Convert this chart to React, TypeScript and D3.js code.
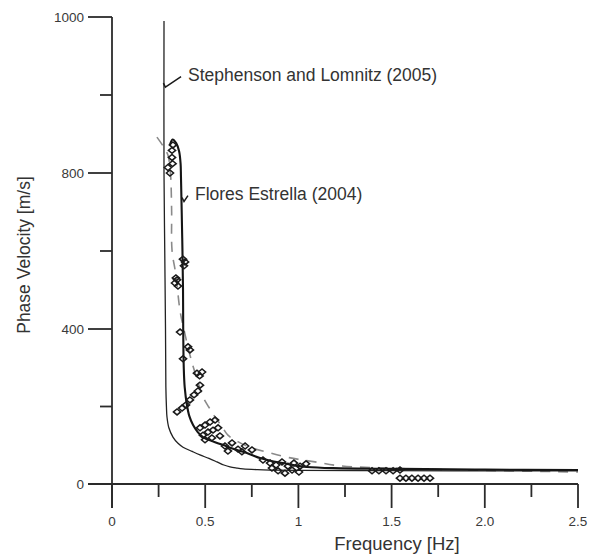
import React from "react";
import * as d3 from "d3";

// Dispersion curve of Stephenson and Lomnitz (2005): [frequency Hz, phase velocity m/s]
const stephensonCurve: [number, number][] = [
  [0.279, 995], [0.279, 800], [0.283, 600], [0.287, 400], [0.289, 250],
  [0.292, 200], [0.295, 173], [0.305, 145], [0.327, 121], [0.354, 105],
  [0.381, 95], [0.43, 84], [0.472, 75], [0.52, 66], [0.563, 57],
  [0.6, 49], [0.633, 44], [0.67, 41], [0.703, 39], [0.78, 37],
  [0.848, 36], [1.009, 35], [1.5, 34.5], [2.0, 34], [2.5, 34],
];

// Dispersion curve of Flores Estrella (2004)
const floresCurve: [number, number][] = [
  [0.311, 836], [0.325, 843], [0.345, 838], [0.36, 828], [0.368, 812],
  [0.370, 790], [0.374, 700], [0.378, 600], [0.381, 500], [0.382, 400],
  [0.385, 300], [0.390, 250], [0.402, 204], [0.415, 175], [0.435, 152],
  [0.460, 134], [0.488, 121], [0.54, 110], [0.595, 101], [0.65, 91],
  [0.703, 83], [0.75, 75], [0.794, 67], [0.85, 60], [0.917, 54],
  [0.98, 48], [1.046, 44], [1.186, 41], [1.545, 39], [2.0, 37], [2.5, 36],
];

// Dashed reference curve
const dashedCurve: [number, number][] = [
  [0.241, 846], [0.27, 836], [0.300, 823], [0.315, 790], [0.317, 769],
  [0.320, 700], [0.322, 602], [0.343, 538], [0.365, 447], [0.39, 390],
  [0.418, 333], [0.45, 280], [0.488, 225], [0.52, 198], [0.553, 173],
  [0.59, 148], [0.622, 126], [0.68, 108], [0.740, 95], [0.848, 80],
  [0.95, 68], [1.089, 57], [1.223, 47], [1.545, 40], [2.0, 35], [2.5, 31],
];

// Measured phase velocities (open diamonds)
const observations: [number, number][] = [
  [0.327, 836], [0.322, 829], [0.322, 820], [0.325, 812], [0.300, 807], [0.311, 800],
  [0.392, 572], [0.386, 562], [0.381, 579],
  [0.349, 526], [0.338, 518], [0.354, 510], [0.343, 531],
  [0.365, 392], [0.381, 323], [0.418, 346], [0.408, 354],
  [0.456, 286], [0.483, 289], [0.47, 279],
  [0.349, 186], [0.376, 196], [0.397, 204], [0.418, 217], [0.440, 230], [0.461, 240], [0.472, 255],
  [0.472, 145], [0.499, 152], [0.526, 160], [0.553, 165],
  [0.488, 126], [0.515, 134], [0.542, 139], [0.569, 145],
  [0.499, 114], [0.536, 119], [0.579, 124],
  [0.606, 98], [0.644, 106], [0.676, 90], [0.714, 98], [0.751, 88], [0.622, 85], [0.697, 83],
  [0.810, 62], [0.848, 54], [0.880, 49], [0.912, 57], [0.944, 46], [0.976, 54], [1.009, 46], [1.041, 52],
  [0.858, 41], [0.891, 34], [0.928, 28], [0.966, 36], [1.003, 31],
  [1.395, 34], [1.432, 34], [1.470, 34], [1.508, 34], [1.545, 36],
  [1.545, 15], [1.577, 15], [1.609, 15], [1.642, 15], [1.674, 15], [1.706, 15],
];

// Axis ticks
const xMajorTicks = [0, 0.5, 1.0, 1.5, 2.0, 2.5];
const xMinorTicks = [0.25, 0.75, 1.25, 1.75, 2.25];
const xTickLabels = ["0", "0.5", "1", "1.5", "2.0", "2.5"];
const yMajorTicks = [0, 400, 800, 1000];
const yMinorTicks = [200, 600, 900];

// Curve labels: [text, label f, label v, arrow tip f, arrow tip v]
const curveLabels: [string, number, number, number, number][] = [
  ["Stephenson and Lomnitz (2005)", 0.408, 926, 0.281, 910],
  ["Flores Estrella (2004)", 0.445, 747, 0.381, 727],
];

const W = 593;
const H = 554;
const FONT = "'Liberation Sans', Arial, Helvetica, sans-serif";
const INK = "#2b2b2b";

export default function App() {
  const x = d3.scaleLinear().domain([0, 2.5]).range([112, 578]);
  // The velocity axis is drawn in three equal-height segments
  const y = d3.scaleLinear().domain([0, 400, 800, 1000]).range([484, 329, 173, 17]);

  const lineX = d3
    .line<[number, number]>()
    .x((d) => x(d[0]))
    .y((d) => y(d[1]))
    .curve(d3.curveCatmullRom.alpha(0.5));

  const diamond = (cx: number, cy: number) =>
    `M${cx - 3.6},${cy}L${cx},${cy - 3}L${cx + 3.6},${cy}L${cx},${cy + 3}Z`;

  const x0 = x(0);
  const y0 = y(0);

  return (
    <svg
      width={W}
      height={H}
      viewBox={`0 0 ${W} ${H}`}
      style={{ position: "absolute", left: 0, top: 0, background: "#fff" }}
      fontFamily={FONT}
    >
      <rect width={W} height={H} fill="#fff" />

      {/* axes */}
      <g stroke={INK} strokeWidth={1.8} fill="none">
        <line x1={x0} x2={x0} y1={y(1000)} y2={y0 + 24} />
        <line x1={x0 - 24} x2={x(2.5)} y1={y0} y2={y0} />
        {yMajorTicks.map((t) => (
          <line key={"ym" + t} x1={x0 - 24} x2={x0} y1={y(t)} y2={y(t)} />
        ))}
        {yMinorTicks.map((t) => (
          <line key={"yn" + t} x1={x0 - 12} x2={x0} y1={y(t)} y2={y(t)} />
        ))}
        {xMajorTicks.map((t) => (
          <line key={"xm" + t} x1={x(t)} x2={x(t)} y1={y0} y2={y0 + 24} />
        ))}
        {xMinorTicks.map((t) => (
          <line key={"xn" + t} x1={x(t)} x2={x(t)} y1={y0} y2={y0 + 13} />
        ))}
      </g>

      {/* tick labels */}
      <g fill="#3a3a3a" fontSize={13.5}>
        {yMajorTicks.map((t) => (
          <text key={"yl" + t} x={x0 - 28} y={y(t)} dy="0.35em" textAnchor="end">
            {t}
          </text>
        ))}
        {xMajorTicks.map((t, i) => (
          <text key={"xl" + t} x={x(t)} y={y0 + 42} textAnchor="middle">
            {xTickLabels[i]}
          </text>
        ))}
      </g>

      {/* axis titles */}
      <text x={(x(0) + x(2.5)) / 2 + 52} y={550} textAnchor="middle" fontSize={18.5} fill="#333">
        Frequency [Hz]
      </text>
      <text
        transform={`translate(30, 255) rotate(-90)`}
        textAnchor="middle"
        fontSize={17.5}
        fill="#333"
      >
        Phase Velocity [m/s]
      </text>

      {/* curves */}
      <path d={lineX(dashedCurve) ?? ""} fill="none" stroke="#8a8a8a" strokeWidth={1.6} strokeDasharray="10 8" />
      <path d={lineX(stephensonCurve) ?? ""} fill="none" stroke="#222" strokeWidth={1.3} />
      <path d={lineX(floresCurve) ?? ""} fill="none" stroke="#151515" strokeWidth={2.1} />

      {/* observations */}
      <g fill="none" stroke="#1a1a1a" strokeWidth={1.5}>
        {observations.map((d, i) => (
          <path key={"o" + i} d={diamond(x(d[0]), y(d[1]))} />
        ))}
      </g>

      {/* curve labels with leaders */}
      {curveLabels.map(([txt, lf, lv, tf, tv]) => {
        const tx = x(tf);
        const ty = y(tv);
        const lx = x(lf);
        const ly = y(lv);
        return (
          <g key={txt}>
            <path
              d={`M${lx - 7},${ly + 2}L${tx + 1},${ty}L${tx - 1},${ty - 4}`}
              fill="none"
              stroke="#1a1a1a"
              strokeWidth={1.5}
            />
            <text x={lx} y={ly} dy="0.35em" fontSize={17.5} fill="#333">
              {txt}
            </text>
          </g>
        );
      })}
    </svg>
  );
}
